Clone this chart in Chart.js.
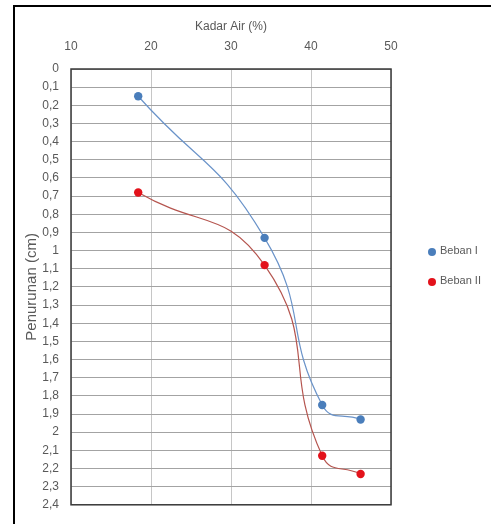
<!DOCTYPE html>
<html>
<head>
<meta charset="utf-8">
<script src="https://cdn.jsdelivr.net/npm/chart.js@4"></script>
<style>
  html, body { margin: 0; padding: 0; background: #fff; overflow: hidden; }
  #frame { position: absolute; left: 13px; top: 5px; width: 520px; height: 560px;
           border: 2px solid #000; box-sizing: border-box; }
  #wrap { position: absolute; left: 0; top: 0; width: 491px; height: 524px; }
  #legend { position: absolute; left: 428px; top: 244px; font: 11px "Liberation Sans", sans-serif; color: #595959; }
  .lg-row { height: 30px; display: flex; align-items: flex-start; }
  .lg-dot { width: 8px; height: 8px; border-radius: 50%; margin-right: 4px; margin-top: 4px; }
</style>
</head>
<body>
<div id="frame"></div>
<div id="wrap"><canvas id="chart" width="491" height="524"></canvas></div>
<div id="legend"></div>

<script>
/* ── DATA ──────────────────────────────────────────── */
const seriesNames  = ["Beban I", "Beban II"];
const kadarAir     = [18.4, 34.2, 41.4, 46.2];     // x, %
const bebanI       = [0.15, 0.93, 1.85, 1.93];     // penurunan, cm
const bebanII      = [0.68, 1.08, 2.13, 2.23];
const xTicks       = [10, 20, 30, 40, 50];
const yMin = 0, yMax = 2.4, yStep = 0.1;

/* ── STYLE ─────────────────────────────────────────── */
const markerColors = ["#4a7ebb", "#e3121b"];
const lineColors   = ["#6a93c9", "#b5554f"];
const FONT = "'Liberation Sans', Arial, sans-serif";
const TXT  = "#595959";

const toPts = ys => kadarAir.map((x, i) => ({ x, y: ys[i] }));
const seriesVals = [bebanI, bebanII];

// dark frame round the plot area
const plotBox = {
  id: "plotBox",
  afterDraw(chart) {
    const { ctx, chartArea: a } = chart;
    ctx.save();
    ctx.strokeStyle = "#3a3a3a";
    ctx.lineWidth = 1.5;
    ctx.strokeRect(a.left, a.top, a.right - a.left, a.bottom - a.top);
    ctx.restore();
  }
};

new Chart(document.getElementById("chart"), {
  type: "scatter",
  data: {
    datasets: seriesNames.map((name, i) => ({
      label: name,
      data: toPts(seriesVals[i]),
      showLine: true,
      tension: 0.5,
      borderColor: lineColors[i],
      borderWidth: 1.2,
      pointRadius: 4.2,
      pointBackgroundColor: markerColors[i],
      pointBorderColor: markerColors[i],
      pointBorderWidth: 0
    }))
  },
  options: {
    responsive: false,
    animation: false,
    layout: { padding: { left: 0, top: 0, right: 100, bottom: 10 } },
    plugins: { legend: { display: false }, tooltip: { enabled: false } },
    scales: {
      x: {
        type: "linear",
        position: "top",
        min: xTicks[0], max: xTicks[xTicks.length - 1],
        afterBuildTicks: s => { s.ticks = xTicks.map(v => ({ value: v })); },
        afterFit: s => { s.height = 69; },
        grid: { color: "#c6c6c6", lineWidth: 1, drawTicks: false },
        border: { display: false },
        ticks: { color: TXT, font: { family: FONT, size: 12 }, padding: 15, maxRotation: 0 },
        title: { display: true, text: "Kadar Air (%)", color: TXT,
                 font: { family: FONT, size: 12 }, padding: { top: 19, bottom: 0 } }
      },
      y: {
        type: "linear",
        reverse: true,
        min: yMin, max: yMax,
        afterFit: s => { s.width = 71; },
        grid: { color: "#a3a3a3", lineWidth: 1, drawTicks: false },
        border: { display: false },
        ticks: {
          stepSize: yStep, autoSkip: false, color: TXT, padding: 12,
          font: { family: FONT, size: 12 },
          callback: v => {
            const s = (Math.round(v * 10) / 10).toFixed(1).replace(".", ",");
            return s.endsWith(",0") ? s.slice(0, -2) : s;
          }
        },
        title: { display: true, text: "Penurunan (cm)", color: TXT,
                 font: { family: FONT, size: 15 }, padding: { top: 23, bottom: 0 } }
      }
    }
  },
  plugins: [plotBox]
});

/* ── LEGEND ────────────────────────────────────────── */
document.getElementById("legend").innerHTML = seriesNames.map((n, i) =>
  `<div class="lg-row"><div class="lg-dot" style="background:${markerColors[i]}"></div><span>${n}</span></div>`
).join("");
</script>
</body>
</html>
